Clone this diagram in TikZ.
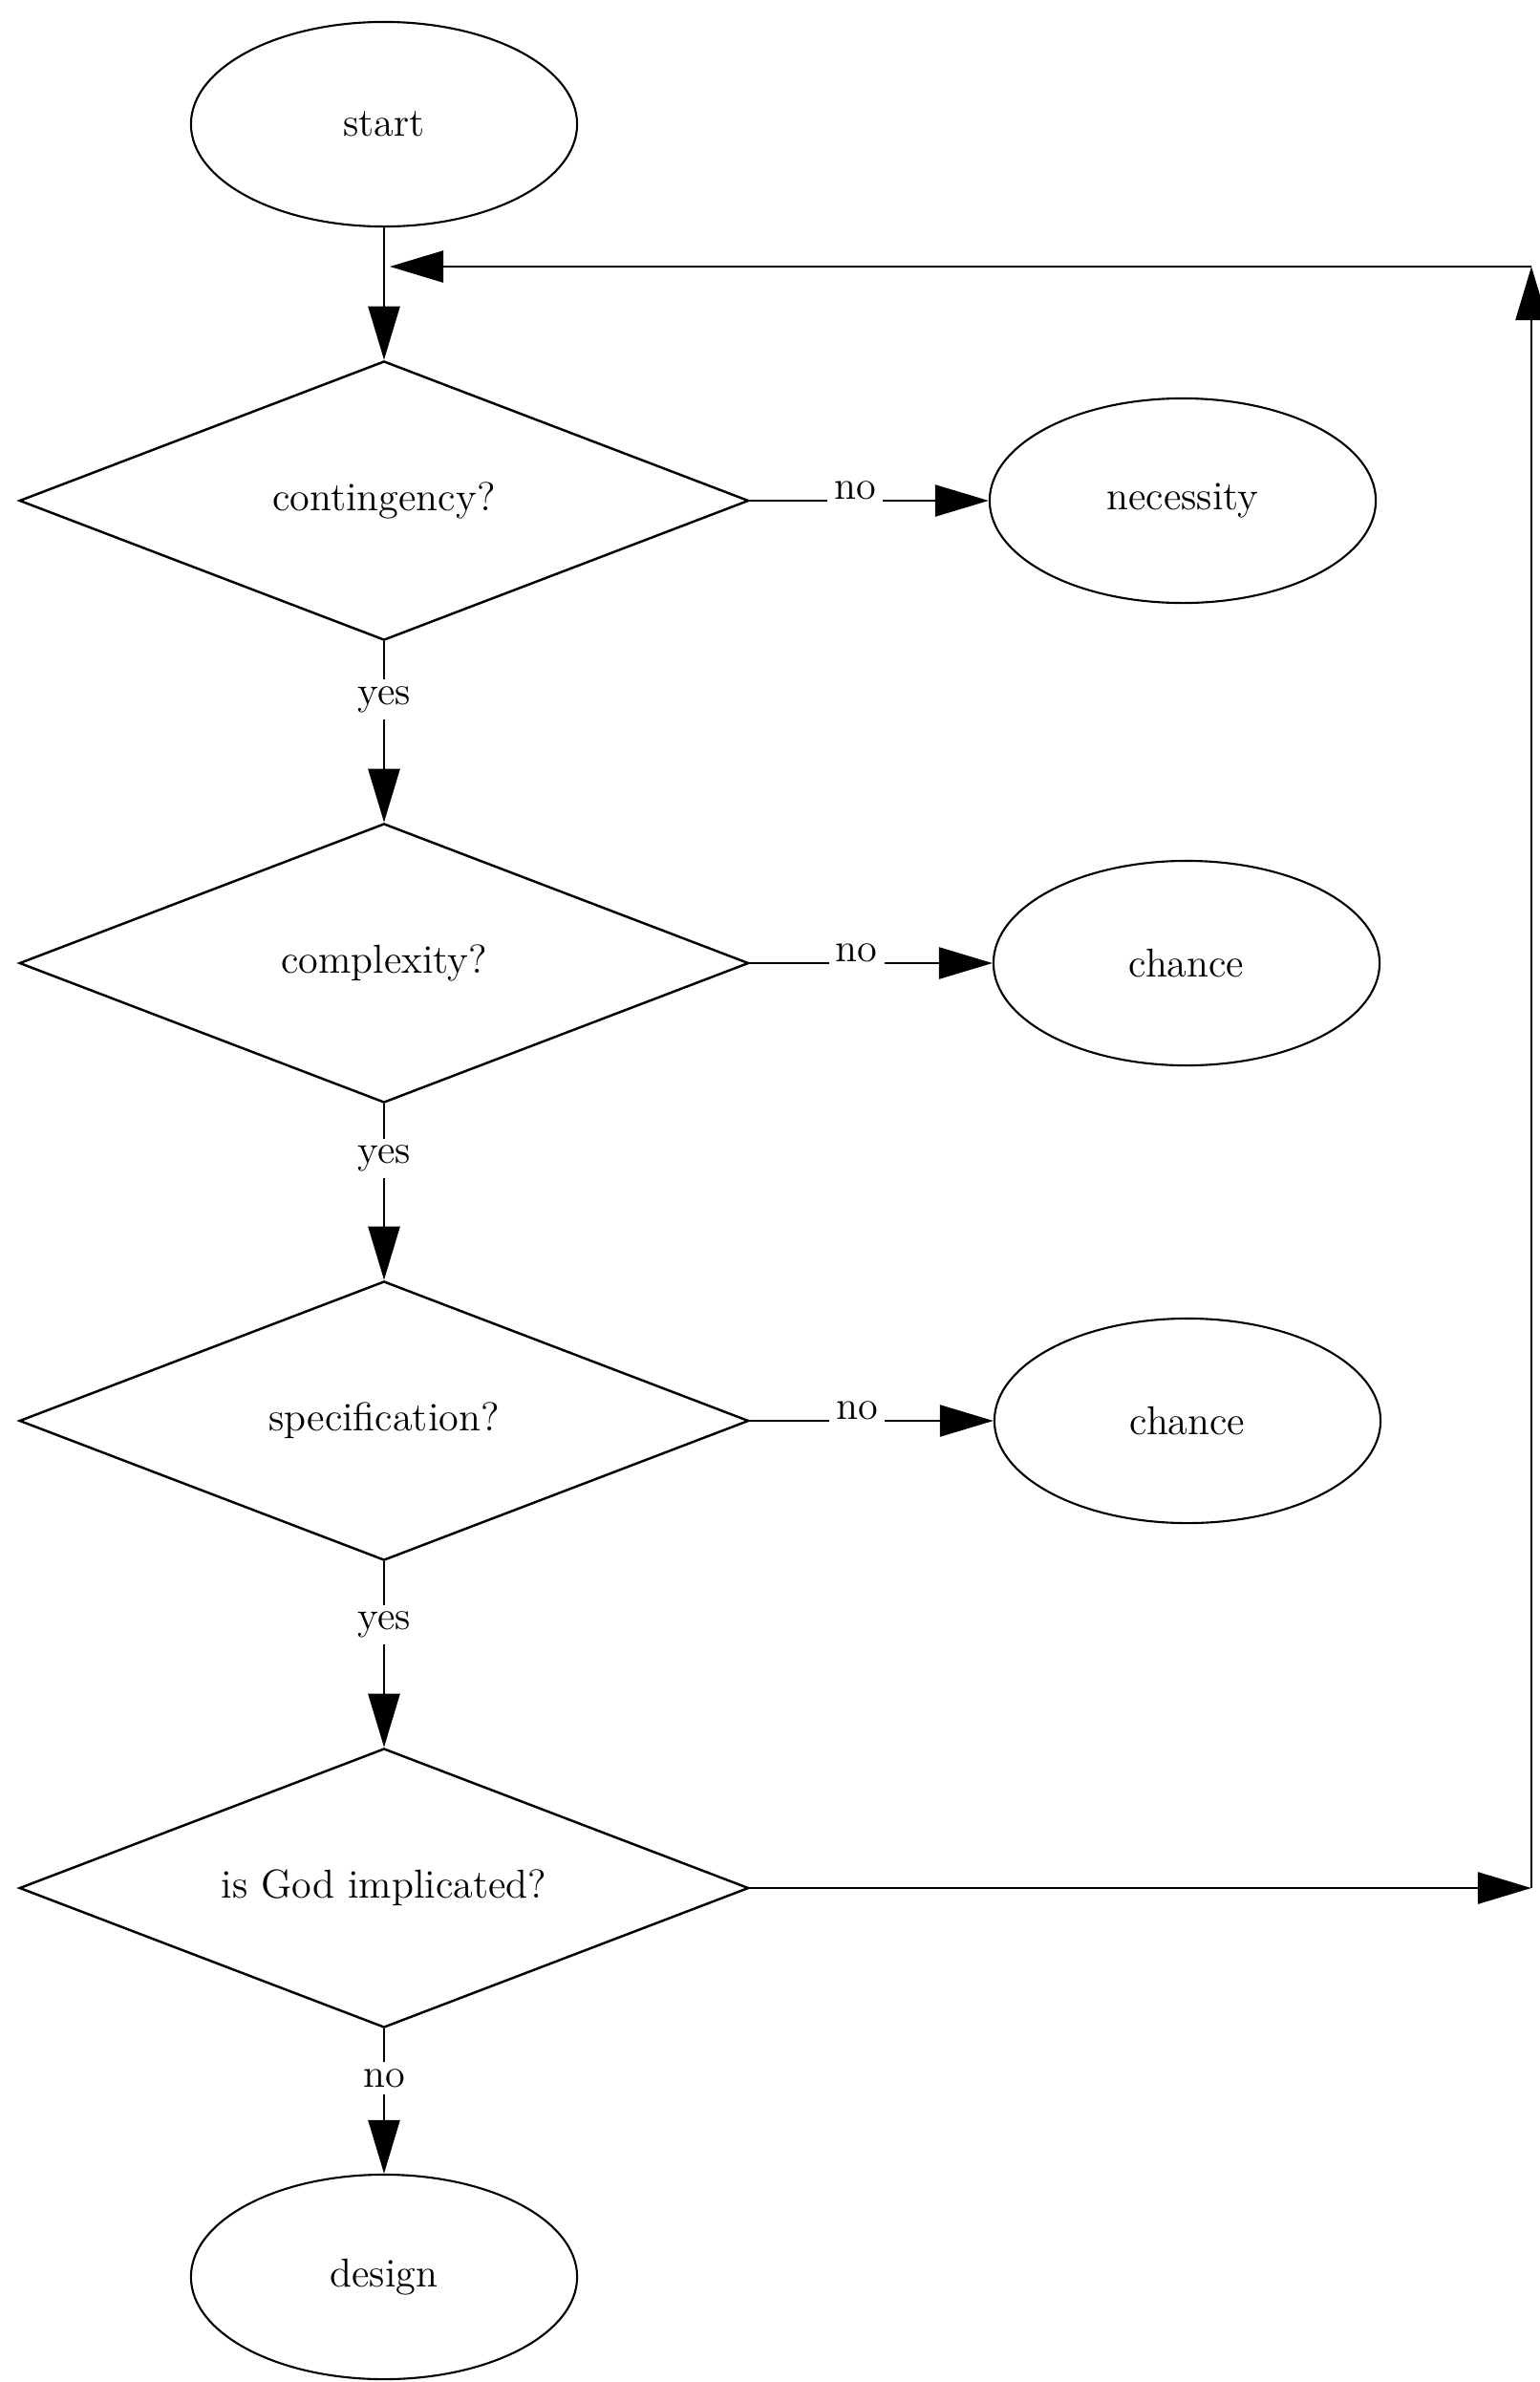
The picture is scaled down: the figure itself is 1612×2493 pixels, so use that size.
\documentclass[tikz,border=0pt]{standalone}
\usetikzlibrary{shapes.geometric, arrows.meta, positioning}

\begin{document}
\begin{tikzpicture}[x=0.01cm, y=-0.01cm,
    every node/.style={font=\fontsize{12}{14}\selectfont},
    terminal/.style={ellipse, draw, line width=0.6pt, minimum width=4.04cm, minimum height=2.14cm, inner sep=0pt},
    decision/.style={diamond, draw, line width=0.7pt, aspect=2.6, minimum width=7.63cm, minimum height=2.92cm, inner sep=0pt},
    flow/.style={line width=0.7pt, -{Triangle[length=5.6mm, width=3.3mm]}},
    answer/.style={fill=white, inner sep=2pt}]
  \useasboundingbox (0,0) rectangle (1612,2493);

  % start
  \node[terminal] (start) at (402,130) {start};

  % decisions, left column
  \node[decision] (contingency) at (402,524) {contingency?};
  \node[decision] (complexity) at (402,1008) {complexity?};
  \node[decision] (specification) at (402,1487) {specification?};
  \node[decision] (implicated) at (402,1976) {is God implicated?};

  % outcomes
  \node[terminal] (necessity) at (1238,524) {necessity};
  \node[terminal] (chanceA) at (1242,1008) {chance};
  \node[terminal] (chanceB) at (1243,1487) {chance};
  \node[terminal] (design) at (402,2383) {design};

  % main flow
  \draw[flow] (start) -- (contingency);
  \draw[flow] (contingency) -- node[answer, pos=0.32] {yes} (complexity);
  \draw[flow] (complexity) -- node[answer, pos=0.31] {yes} (specification);
  \draw[flow] (specification) -- node[answer, pos=0.34] {yes} (implicated);
  \draw[flow] (implicated) -- node[answer, pos=0.34] {no} (design);

  % no branches
  \draw[flow] (contingency) -- node[answer, pos=0.44, yshift=3pt] {no} (necessity);
  \draw[flow] (complexity) -- node[answer, pos=0.44, yshift=3pt] {no} (chanceA);
  \draw[flow] (specification) -- node[answer, pos=0.44, yshift=3pt] {no} (chanceB);

  % loop back
  \coordinate (turnlow) at (1603,1976);
  \coordinate (turnhigh) at (1603,279);
  \coordinate (rejoin) at (408,279);
  \draw[flow] (implicated) -- (turnlow);
  \draw[flow] (turnlow) -- (turnhigh);
  \draw[flow] (turnhigh) -- (rejoin);
\end{tikzpicture}
\end{document}
